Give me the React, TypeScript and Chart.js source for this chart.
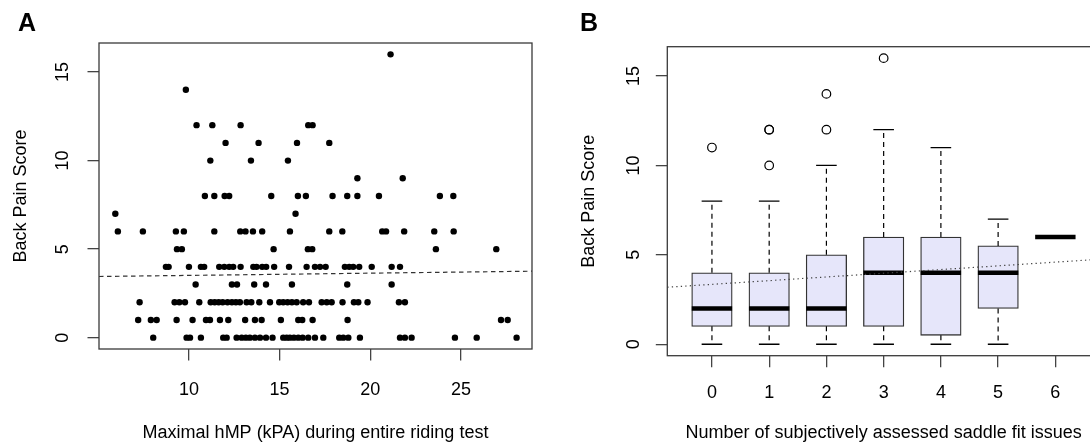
import React, { useEffect, useRef } from 'react';
import { Chart, registerables } from 'chart.js';

Chart.register(...registerables);

const FONT = "'Liberation Sans', Arial, Helvetica, sans-serif";

// ---------- Panel A: scatter of back pain score vs maximal hMP ----------
const scoreRowsA = [16, 14, 12, 11, 10, 9, 8, 7, 6, 5, 4, 3, 2, 1, 0];
const hmpByScoreA = [
  [21.12],
  [9.83],
  [10.42, 11.29, 12.85, 16.58, 16.82],
  [12.02, 13.84, 15.96, 17.74],
  [11.18, 13.42, 15.46],
  [19.29, 21.79],
  [10.88, 11.4, 11.97, 12.22, 14.54, 16.01, 16.45, 17.92, 18.73, 19.29, 20.48, 23.84, 24.58],
  [5.94, 15.88],
  [6.08, 7.46, 9.28, 9.72, 11.4, 12.83, 13.12, 13.53, 14.04, 15.57, 17.74, 18.46, 20.66, 20.87, 21.87, 23.53, 24.6],
  [9.34, 9.61, 14.67, 16.56, 16.8, 23.62, 26.95],
  [8.73, 8.88, 10.0, 10.66, 10.84, 11.67, 11.95, 12.22, 12.44, 12.85, 13.55, 13.73, 14.04, 14.26, 14.7, 15.52, 16.49, 16.95, 17.23, 17.54, 18.6, 18.84, 19.06, 19.39, 20.08, 21.18, 21.64],
  [10.37, 12.37, 12.65, 13.6, 14.25, 15.68, 18.73, 21.18],
  [7.28, 9.21, 9.47, 9.78, 10.57, 11.2, 11.42, 11.64, 11.86, 12.13, 12.37, 12.59, 12.81, 13.18, 13.44, 13.88, 14.47, 14.98, 15.2, 15.44, 15.68, 15.94, 16.3, 16.62, 17.32, 17.6, 17.87, 18.47, 19.1, 19.34, 19.85, 21.58, 21.91],
  [7.2, 7.9, 8.22, 9.32, 10.2, 10.94, 11.16, 11.71, 12.17, 13.1, 13.64, 14.01, 15.07, 16.03, 16.25, 16.82, 18.75, 27.21, 27.58],
  [8.03, 9.87, 10.06, 10.66, 11.89, 12.08, 12.63, 12.91, 13.14, 13.36, 13.64, 13.92, 14.25, 14.61, 15.2, 15.39, 15.57, 15.79, 16.03, 16.27, 16.58, 16.95, 17.41, 18.29, 18.51, 18.79, 19.43, 21.64, 21.91, 22.28, 24.67, 25.87, 28.07],
];
const xTicksA = [10, 15, 20, 25];
const xRangeA = [5.04, 28.92];
const trendA = { intercept: 3.39, slope: 0.0126 };

// ---------- Panel B: box plots by number of saddle fit issues ----------
const groupsB = [0, 1, 2, 3, 4, 5, 6];
const whiskerLowB = [0, 0, 0, 0, 0, 0, 6];
const q1B = [1, 1, 1, 1, 0.5, 2, 6];
const medianB = [2, 2, 2, 4, 4, 4, 6];
const q3B = [4, 4, 5, 6, 6, 5.5, 6];
const whiskerHighB = [8, 8, 10, 12, 11, 7, 6];
const outlierGroupB = [0, 1, 1, 1, 2, 2, 3];
const outlierValueB = [11, 10, 12, 12, 12, 14, 16];
const xRangeB = [-0.78, 6.78];
const trendB = { intercept: 3.35, slope: 0.207 };

// shared y axis
const yTicks = [0, 5, 10, 15];
const yRange = [-0.64, 16.64];

const framePlugin = {
  id: 'frame',
  afterDatasetsDraw(chart: any) {
    const { ctx, chartArea: a } = chart;
    ctx.save();
    ctx.strokeStyle = '#3a3a3a';
    ctx.lineWidth = 1.3;
    ctx.strokeRect(a.left, a.top, a.right - a.left, a.bottom - a.top);
    ctx.restore();
  },
};

const rotatedYLabels = {
  id: 'rotatedYLabels',
  afterDraw(chart: any, _args: any, opts: any) {
    const scale = chart.scales.y;
    const { ctx } = chart;
    ctx.save();
    ctx.fillStyle = '#000';
    ctx.font = `18px ${FONT}`;
    ctx.textAlign = 'center';
    ctx.textBaseline = 'middle';
    scale.ticks.forEach((t: any) => {
      const y = scale.getPixelForValue(t.value);
      ctx.save();
      ctx.translate(chart.chartArea.left - opts.offset, y);
      ctx.rotate(-Math.PI / 2);
      ctx.fillText(String(t.label), 0, 0);
      ctx.restore();
    });
    ctx.restore();
  },
};

function axisX(min: number, max: number, ticks: number[], height: number, pad: number, title: string, titlePad: number) {
  return {
    type: 'linear',
    min,
    max,
    offset: false,
    afterBuildTicks: (s: any) => {
      s.ticks = ticks.map((v) => ({ value: v }));
    },
    afterFit: (s: any) => {
      s.height = height;
      s.paddingLeft = 0;
      s.paddingRight = 0;
    },
    grid: { display: true, drawOnChartArea: false, drawTicks: true, tickLength: 11.5, color: '#444', lineWidth: 1.3, offset: false },
    border: { display: false },
    ticks: { font: { size: 18, family: FONT }, color: '#000', padding: pad, maxRotation: 0, minRotation: 0, autoSkip: false },
    title: { display: true, text: title, font: { size: 18, family: FONT }, color: '#000', padding: { top: 0, bottom: titlePad } },
  };
}

function axisY(width: number, titlePad: number) {
  return {
    type: 'linear',
    min: yRange[0],
    max: yRange[1],
    afterBuildTicks: (s: any) => {
      s.ticks = yTicks.map((v) => ({ value: v }));
    },
    afterFit: (s: any) => {
      s.width = width;
      s.paddingTop = 0;
      s.paddingBottom = 0;
    },
    grid: { display: true, drawOnChartArea: false, drawTicks: true, tickLength: 11.5, color: '#444', lineWidth: 1.3 },
    border: { display: false },
    ticks: { display: false },
    title: { display: true, text: 'Back Pain Score', font: { size: 18, family: FONT }, color: '#000', padding: { top: titlePad, bottom: 0 } },
  };
}

function panelTitle(text: string, bottom: number) {
  return {
    display: true,
    text,
    align: 'start',
    color: '#000',
    font: { size: 25, weight: 'bold', family: FONT },
    padding: { top: 9, bottom },
  };
}

export default function App() {
  const refA = useRef<HTMLCanvasElement>(null);
  const refB = useRef<HTMLCanvasElement>(null);

  useEffect(() => {
    Chart.defaults.font.family = FONT;
    Chart.defaults.color = '#000';

    const pointsA = scoreRowsA.flatMap((score, i) => hmpByScoreA[i].map((h) => ({ x: h, y: score })));
    const trendPtsA = xRangeA.map((x) => ({ x, y: trendA.intercept + trendA.slope * x }));

    const chartA = new Chart(refA.current as HTMLCanvasElement, {
      type: 'scatter',
      data: {
        datasets: [
          {
            type: 'line',
            data: trendPtsA,
            borderColor: '#333',
            borderWidth: 1.2,
            borderDash: [4.5, 3.5],
            pointRadius: 0,
            fill: false,
            order: 0,
          } as any,
          {
            type: 'scatter',
            data: pointsA,
            pointRadius: 3.2,
            pointBackgroundColor: '#000',
            pointBorderWidth: 0,
            order: 1,
          },
        ],
      },
      options: {
        animation: false,
        responsive: false,
        events: [],
        layout: { autoPadding: false, padding: { left: 18, right: 13, top: 0, bottom: 0 } },
        scales: {
          x: axisX(xRangeA[0], xRangeA[1], xTicksA, 95, 19, 'Maximal hMP (kPA) during entire riding test', 0.5),
          y: axisY(81, -7.8),
        } as any,
        plugins: {
          legend: { display: false },
          tooltip: { enabled: false },
          title: panelTitle('A', 4) as any,
          rotatedYLabels: { offset: 35.5 },
        } as any,
      } as any,
      plugins: [framePlugin, rotatedYLabels],
    });

    const boxData = groupsB.map((g, i) => ({ x: g, y: [q1B[i], q3B[i]] }));
    const whiskerPts = groupsB.flatMap((g, i) => [
      { x: g, y: q3B[i] },
      { x: g, y: whiskerHighB[i] },
      { x: g, y: null },
      { x: g, y: q1B[i] },
      { x: g, y: whiskerLowB[i] },
      { x: g, y: null },
    ]);
    const capPts = groupsB.flatMap((g, i) => [
      { x: g, y: whiskerHighB[i] },
      { x: g, y: whiskerLowB[i] },
    ]);
    const medianPts = groupsB.map((g, i) => ({ x: g, y: medianB[i] }));
    const outlierPts = outlierGroupB.map((g, i) => ({ x: g, y: outlierValueB[i] }));
    const trendPtsB = xRangeB.map((x) => ({ x, y: trendB.intercept + trendB.slope * x }));

    const chartB = new Chart(refB.current as HTMLCanvasElement, {
      type: 'scatter',
      data: {
        datasets: [
          {
            type: 'line',
            data: trendPtsB,
            borderColor: '#444',
            borderWidth: 1.2,
            borderDash: [1.3, 3.2],
            pointRadius: 0,
            fill: false,
            order: 0,
          } as any,
          {
            type: 'scatter',
            data: medianPts,
            pointStyle: 'line',
            pointRadius: 20.2,
            pointBorderWidth: 4.5,
            pointBorderColor: '#000',
            borderColor: '#000',
            order: 1,
          } as any,
          {
            type: 'scatter',
            data: outlierPts,
            pointStyle: 'circle',
            pointRadius: 4.3,
            pointBorderWidth: 1.2,
            pointBorderColor: '#000',
            pointBackgroundColor: 'rgba(255,255,255,0)',
            order: 2,
          } as any,
          {
            type: 'scatter',
            data: capPts,
            pointStyle: 'line',
            pointRadius: 10.3,
            pointBorderWidth: 1.3,
            pointBorderColor: '#000',
            borderColor: '#000',
            order: 3,
          } as any,
          {
            type: 'line',
            data: whiskerPts,
            borderColor: '#000',
            borderWidth: 1.2,
            borderDash: [5, 4],
            pointRadius: 0,
            spanGaps: false,
            fill: false,
            order: 4,
          } as any,
          {
            type: 'bar',
            data: boxData,
            backgroundColor: '#E6E6FA',
            borderColor: '#333',
            borderWidth: 1.3,
            borderSkipped: false,
            barThickness: 40.5,
            order: 5,
          } as any,
        ],
      },
      options: {
        animation: false,
        responsive: false,
        events: [],
        layout: { autoPadding: false, padding: { left: 35, right: 5, top: 0, bottom: 0 } },
        scales: {
          x: axisX(xRangeB[0], xRangeB[1], groupsB, 88.3, 15, 'Number of subjectively assessed saddle fit issues', 0.5),
          y: axisY(87.3, -1.8),
        } as any,
        plugins: {
          legend: { display: false },
          tooltip: { enabled: false },
          title: panelTitle('B', 7.7) as any,
          rotatedYLabels: { offset: 33.5 },
        } as any,
      } as any,
      plugins: [framePlugin, rotatedYLabels],
    });

    return () => {
      chartA.destroy();
      chartB.destroy();
    };
  }, []);

  return (
    <div
      style={{
        position: 'fixed',
        left: 0,
        top: 0,
        width: 1090,
        height: 444,
        overflow: 'hidden',
        background: '#fff',
      }}
    >
      <canvas ref={refA} width={545} height={444} style={{ position: 'absolute', left: 0, top: 0, display: 'block' }} />
      <canvas ref={refB} width={560} height={444} style={{ position: 'absolute', left: 545, top: 0, display: 'block' }} />
    </div>
  );
}
